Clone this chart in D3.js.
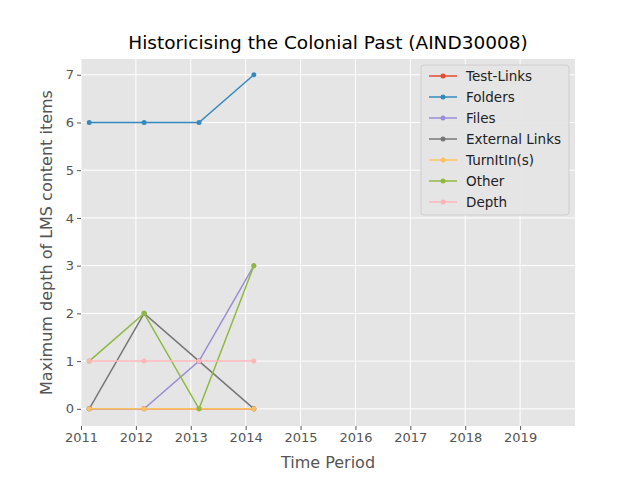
<!DOCTYPE html>
<html><head><meta charset="utf-8">
<script src="https://cdn.jsdelivr.net/npm/d3@7"></script>
<style>body{margin:0;background:#fff;font-family:"DejaVu Sans",sans-serif}</style>
</head><body><svg id="c" width="640" height="480"></svg>
<script>
const years = [2011.15, 2012.15, 2013.15, 2014.15];
const seriesNames = ["Test-Links", "Folders", "Files", "External Links", "TurnItIn(s)", "Other", "Depth"];
const seriesValues = [
  [0, 0, 0, 0],
  [6, 6, 6, 7],
  [0, 0, 1, 3],
  [0, 2, 1, 0],
  [0, 0, 0, 0],
  [1, 2, 0, 3],
  [1, 1, 1, 1]
];
const colors = ["#E24A33", "#348ABD", "#988ED5", "#777777", "#FBC15E", "#8EBA42", "#FFB5B8"];
const xTicks = [2011, 2012, 2013, 2014, 2015, 2016, 2017, 2018, 2019];
const yTicks = [0, 1, 2, 3, 4, 5, 6, 7];

const svg = d3.select("#c");
const m = {left: 81, right: 65, top: 59, bottom: 54};
const w = 640 - m.left - m.right, h = 480 - m.top - m.bottom;
const g = svg.append("g").attr("transform", `translate(${m.left},${m.top})`);
const x = d3.scaleLinear().domain([2011, 2020]).range([0, w]);
const y = d3.scaleLinear().domain([-0.36, 7.33]).range([h, 0]);

g.append("rect").attr("width", w).attr("height", h).attr("fill", "#E5E5E5");
g.selectAll(".gx").data(xTicks).join("line").attr("x1", d => x(d)).attr("x2", d => x(d))
  .attr("y1", 0).attr("y2", h).attr("stroke", "#fff").attr("stroke-width", 1);
g.selectAll(".gy").data(yTicks).join("line").attr("y1", d => y(d)).attr("y2", d => y(d))
  .attr("x1", 0).attr("x2", w).attr("stroke", "#fff").attr("stroke-width", 1);

const xa = g.append("g").attr("transform", `translate(0,${h})`)
  .call(d3.axisBottom(x).tickValues(xTicks).tickFormat(d3.format("d")).tickSize(4));
const ya = g.append("g").call(d3.axisLeft(y).tickValues(yTicks).tickSize(4));
[xa, ya].forEach(a => {
  a.select(".domain").remove();
  a.selectAll("line").attr("stroke", "#555");
  a.selectAll("text").attr("fill", "#555").attr("font-size", 13).attr("font-family", "DejaVu Sans");
});

const line = d3.line().x((d, i) => x(years[i])).y(d => y(d));
seriesValues.forEach((vals, k) => {
  g.append("path").datum(vals).attr("d", line).attr("fill", "none")
    .attr("stroke", colors[k]).attr("stroke-width", 1.5);
  g.selectAll(null).data(vals).join("circle").attr("cx", (d, i) => x(years[i])).attr("cy", d => y(d))
    .attr("r", 2.5).attr("fill", colors[k]);
});

svg.append("text").attr("x", m.left + w / 2).attr("y", 49).attr("text-anchor", "middle")
  .attr("font-size", 18.5).text("Historicising the Colonial Past (AIND30008)");
svg.append("text").attr("x", m.left + w / 2).attr("y", 468).attr("text-anchor", "middle")
  .attr("font-size", 16).attr("fill", "#555").text("Time Period");
svg.append("text").attr("transform", `translate(52,${m.top + h / 2}) rotate(-90)`).attr("text-anchor", "middle")
  .attr("font-size", 16).attr("fill", "#555").text("Maximum depth of LMS content items");

const lg = svg.append("g").attr("transform", "translate(421,65)");
lg.append("rect").attr("width", 148).attr("height", 150).attr("rx", 3)
  .attr("fill", "#E5E5E5").attr("stroke", "#ccc").attr("opacity", 0.9);
seriesNames.forEach((n, k) => {
  const yy = 11 + k * 21;
  lg.append("line").attr("x1", 8).attr("x2", 36).attr("y1", yy).attr("y2", yy)
    .attr("stroke", colors[k]).attr("stroke-width", 1.5);
  lg.append("circle").attr("cx", 22).attr("cy", yy).attr("r", 2.5).attr("fill", colors[k]);
  lg.append("text").attr("x", 45).attr("y", yy + 5).attr("font-size", 13.5).attr("fill", "#222").text(n);
});
</script></body></html>
